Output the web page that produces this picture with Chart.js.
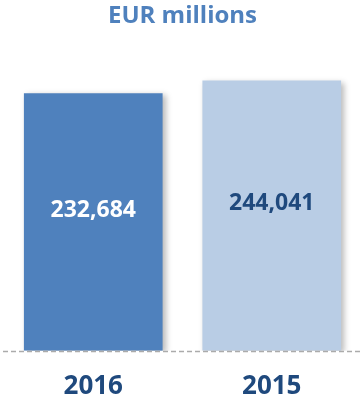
<!DOCTYPE html>
<html>
<head>
<meta charset="utf-8">
<script src="https://cdn.jsdelivr.net/npm/chart.js@4"></script>
<style>
html,body{margin:0;padding:0;background:#fff;}
#wrap{width:361px;height:401px;}
</style>
</head>
<body>
<div id="wrap"><canvas id="c" width="361" height="401"></canvas></div>
<script>
const categories = ['2016', '2015'];
const values = [232684, 244041];
const valueLabels = ['232,684', '244,041'];
const titleText = 'EUR millions';

const barColors = ['#4F81BD', '#B9CDE5'];
const labelColors = ['#FFFFFF', '#1F497D'];

const shadowPlugin = {
  id: 'shadow',
  beforeDatasetsDraw(chart) {
    const ctx = chart.ctx;
    ctx.save();
    ctx.shadowColor = 'rgba(0,0,0,0.28)';
    ctx.shadowBlur = 6;
    ctx.shadowOffsetX = 3;
    ctx.shadowOffsetY = 2;
  },
  afterDatasetsDraw(chart) {
    const ctx = chart.ctx;
    ctx.restore();
    const meta = chart.getDatasetMeta(0);
    ctx.save();
    ctx.font = 'bold 23px "Open Sans"';
    ctx.textAlign = 'center';
    ctx.textBaseline = 'middle';
    meta.data.forEach((bar, i) => {
      const p = bar.getProps(['x', 'y', 'base'], true);
      ctx.fillStyle = labelColors[i];
      ctx.fillText(valueLabels[i], p.x, (p.y + p.base) / 2 - 12);
    });
    ctx.restore();
  }
};

const dashedAxisPlugin = {
  id: 'dashedAxis',
  afterDraw(chart) {
    const ctx = chart.ctx;
    const xs = chart.scales.x;
    const y = Math.round(chart.chartArea.bottom) + 0.5;
    ctx.save();
    ctx.strokeStyle = '#ABABAB';
    ctx.lineWidth = 1.5;
    ctx.setLineDash([5, 3]);
    ctx.beginPath();
    ctx.moveTo(xs.left - 1, y);
    ctx.lineTo(xs.right, y);
    ctx.stroke();
    ctx.restore();
  }
};

new Chart(document.getElementById('c'), {
  type: 'bar',
  data: {
    labels: categories,
    datasets: [{
      data: values,
      backgroundColor: barColors,
      borderWidth: 0,
      barPercentage: 0.777,
      categoryPercentage: 1
    }]
  },
  options: {
    responsive: false,
    animation: false,
    events: [],
    layout: { padding: { left: 4, right: 0, top: 0, bottom: -21 } },
    plugins: {
      legend: { display: false },
      tooltip: { enabled: false },
      title: {
        display: true,
        text: titleText,
        color: '#4F81BD',
        font: { family: 'Open Sans', size: 24, weight: 'bold' },
        padding: { top: 2, bottom: 10 }
      }
    },
    scales: {
      x: {
        grid: { display: false, drawTicks: false },
        border: { display: false },
        ticks: {
          color: '#1F497D',
          font: { family: 'Open Sans', size: 26, weight: 'bold' },
          padding: 20
        }
      },
      y: {
        display: false,
        min: 0,
        max: 280000
      }
    }
  },
  plugins: [shadowPlugin, dashedAxisPlugin]
});
</script>
</body>
</html>
